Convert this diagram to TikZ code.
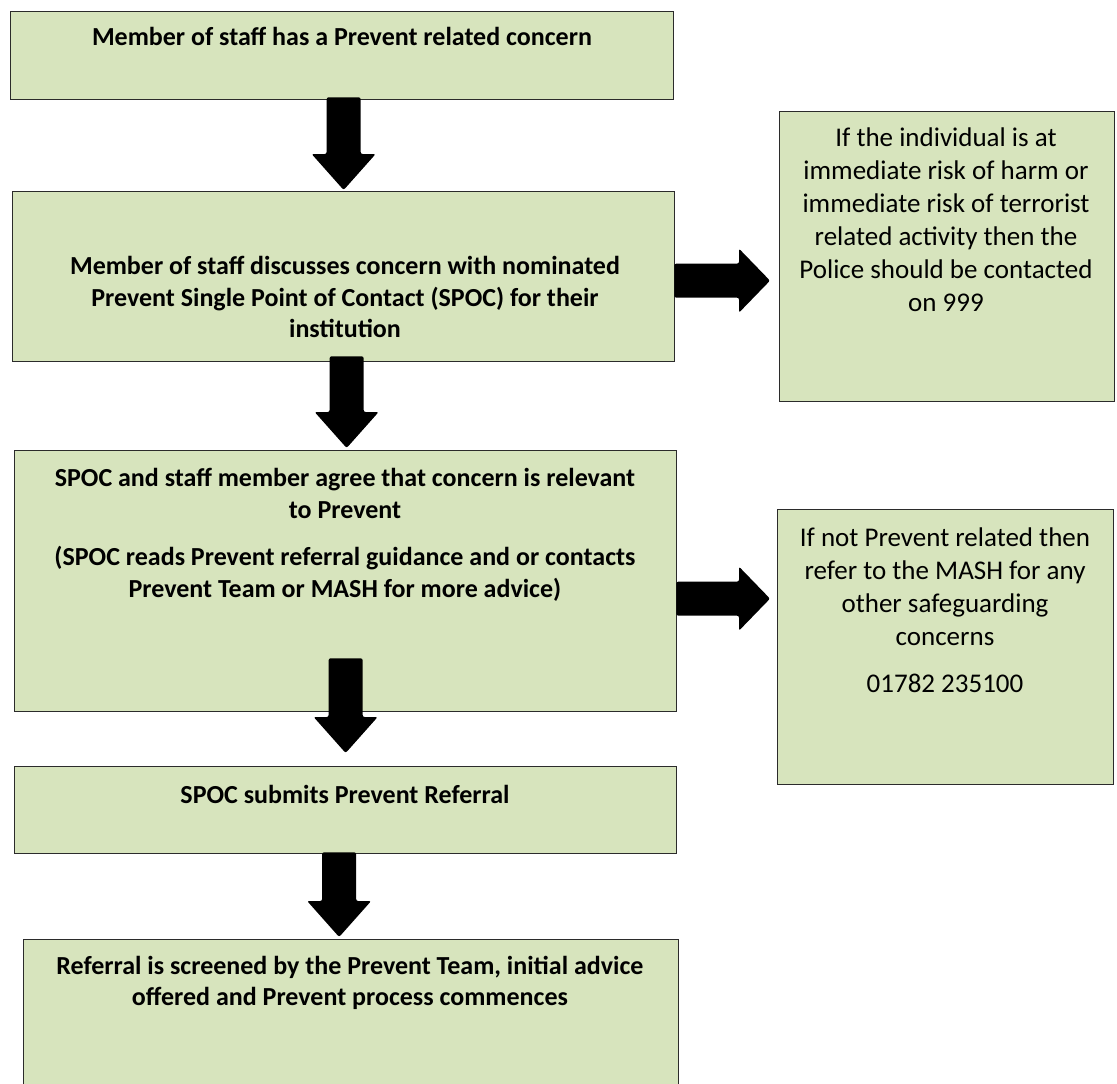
\documentclass[tikz,border=0pt]{standalone}
\usepackage{fontspec}
\setmainfont{Carlito}
\usetikzlibrary{calc}
\definecolor{boxfill}{HTML}{D7E4BD}
\definecolor{boxline}{HTML}{2B2B2B}
\tikzset{
  flowbox/.style={draw=boxline, fill=boxfill, line width=1.3pt, inner sep=0pt, rectangle, anchor=north west},
  ltext/.style={align=center, font=\fontsize{26}{31.5}\selectfont\bfseries, inner sep=0pt, text=black},
  rtext/.style={align=center, font=\fontsize{27}{33}\selectfont, inner sep=0pt, text=black},
  blk/.style={fill=black, rounded corners=2pt},
}
% vertical block arrow: #1 start point (its y is used), #2 tip point
\newcommand\vblockarrow[2]{%
  \coordinate (vs) at (#1 -| #2);
  \fill[blk] ($(vs)+(-17,0)$) -- ($(vs)+(17,0)$) -- ($(#2)+(17,-36)$) -- ($(#2)+(32,-36)$)
    -- (#2) -- ($(#2)+(-32,-36)$) -- ($(#2)+(-17,-36)$) -- cycle;}
% horizontal block arrow: #1 start point (its x is used), #2 tip point
\newcommand\hblockarrow[2]{%
  \coordinate (hs) at (#1 |- #2);
  \fill[blk] ($(hs)+(0,-17)$) -- ($(#2)+(-31,-17)$) -- ($(#2)+(-31,-32)$) -- (#2)
    -- ($(#2)+(-31,32)$) -- ($(#2)+(-31,17)$) -- ($(hs)+(0,17)$) -- cycle;}
\begin{document}
\begin{tikzpicture}[x=1pt,y=-1pt]
\useasboundingbox (0,0) rectangle (1117,1084);

% boxes
\node[flowbox, minimum width=663pt, minimum height=88pt]  (b1) at (10,11) {};
\node[flowbox, minimum width=662pt, minimum height=170pt] (b2) at (12,191) {};
\node[flowbox, minimum width=335pt, minimum height=290pt] (b3) at (779,111) {};
\node[flowbox, minimum width=662pt, minimum height=261pt] (b4) at (14,450) {};
\node[flowbox, minimum width=336pt, minimum height=275pt] (b5) at (777,509) {};
\node[flowbox, minimum width=662pt, minimum height=87pt]  (b6) at (14,766) {};
\node[flowbox, minimum width=655pt, minimum height=150pt] (b7) at (23,939) {};

% texts
\node[ltext] (t1) at (342,36) {Member of staff has a Prevent related concern};
\node[ltext] (t2) at (345,297) {Member of staff discusses concern with nominated\\Prevent Single Point of Contact (SPOC) for their\\institution};
\node[rtext] (t3) at (946,220) {If the individual is at\\immediate risk of harm or\\immediate risk of terrorist\\related activity then the\\Police should be contacted\\on 999};
\node[ltext] (t4) at (345,535) {SPOC and staff member agree that concern is relevant\\to Prevent\\[16pt](SPOC reads Prevent referral guidance and or contacts\\Prevent Team or MASH for more advice)};
\node[rtext] (t5) at (945,610) {If not Prevent related then\\refer to the MASH for any\\other safeguarding\\concerns\\[14pt]01782 235100};
\node[ltext] (t6) at (345,794) {SPOC submits Prevent Referral};
\node[ltext] (t7) at (350,983) {Referral is screened by the Prevent Team, initial advice\\offered and Prevent process commences};

% connectors
\coordinate (a1s) at ($(b1.south)+(0,-3)$);
\coordinate (a1t) at ($(b2.north)+(0,-1)$);
\vblockarrow{a1s}{a1t}
\coordinate (a2s) at ($(b2.south)+(0,-6)$);
\coordinate (a2t) at ($(b4.north)+(1,-2)$);
\vblockarrow{a2s}{a2t}
\coordinate (a3s) at ($(b4.south)+(0,-54)$);
\coordinate (a3t) at ($(b6.north)+(0,-13)$);
\vblockarrow{a3s}{a3t}
\coordinate (a4s) at ($(b6.south)+(0,-2)$);
\coordinate (a4t) at ($(b7.north)+(-12,-2)$);
\vblockarrow{a4s}{a4t}

\coordinate (r1s) at ($(b2.east)+(-1,0)$);
\coordinate (r1t) at ($(b3.west)+(-9,24)$);
\hblockarrow{r1s}{r1t}
\coordinate (r2s) at ($(b4.east)+(-1,0)$);
\coordinate (r2t) at ($(b5.west)+(-7,-48.5)$);
\hblockarrow{r2s}{r2t}
\end{tikzpicture}
\end{document}
